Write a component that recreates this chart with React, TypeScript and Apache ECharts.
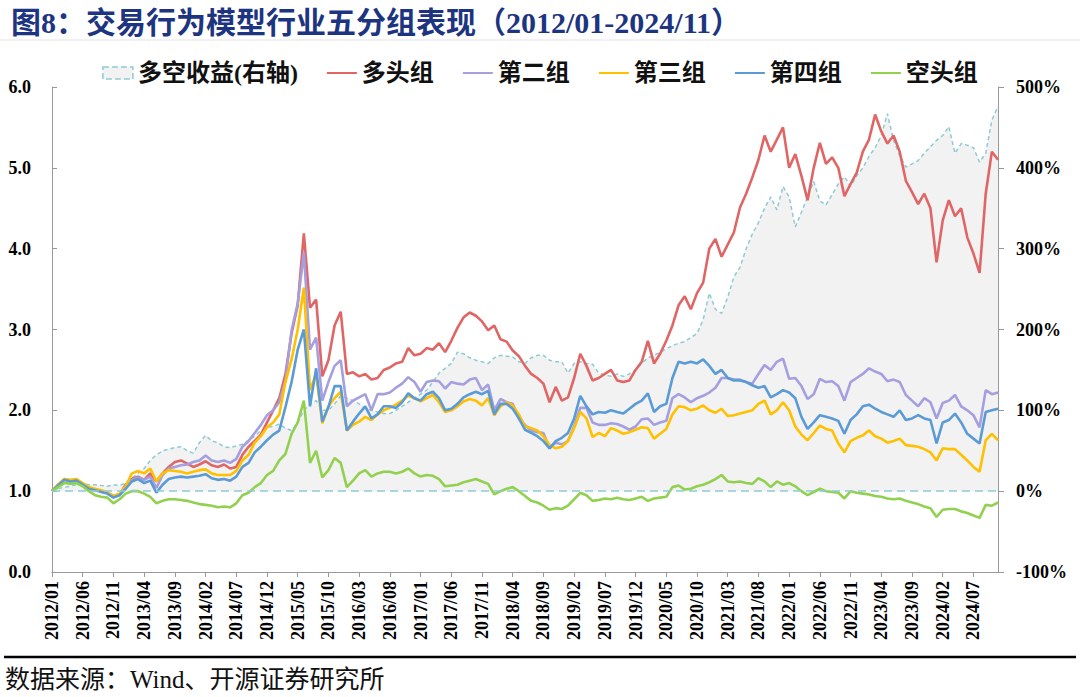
import React, { useEffect, useRef } from "react";
import * as echarts from "echarts";

// Categories: monthly 2012/01 - 2024/11
const months: string[] = [];
for (let y = 2012; y <= 2024; y++) {
  for (let m = 1; m <= 12; m++) {
    if (y === 2024 && m > 11) break;
    months.push(`${y}/${m < 10 ? "0" + m : m}`);
  }
}

// 多头组
const longGroup = [
  1.00,1.08,1.14,1.12,1.13,1.08,1.04,1.02,1.00,0.98,0.94,0.96,
  1.08,1.15,1.18,1.14,1.22,1.12,1.22,1.30,1.36,1.38,1.34,1.30,
  1.33,1.37,1.32,1.30,1.33,1.28,1.30,1.45,1.55,1.62,1.70,1.85,
  2.00,2.15,2.45,2.95,3.30,4.19,3.27,3.37,2.42,2.62,3.05,3.22,
  2.45,2.47,2.42,2.45,2.38,2.40,2.50,2.53,2.58,2.60,2.77,2.68,
  2.70,2.77,2.75,2.83,2.72,2.86,3.02,3.15,3.21,3.17,3.10,2.99,
  3.05,2.88,2.85,2.74,2.67,2.55,2.45,2.40,2.33,2.10,2.29,2.12,
  2.16,2.40,2.70,2.55,2.37,2.40,2.45,2.50,2.37,2.35,2.37,2.50,
  2.60,2.86,2.58,2.70,2.86,3.05,3.30,3.41,3.25,3.45,3.58,4.00,
  4.12,3.90,4.05,4.20,4.51,4.68,4.88,5.10,5.40,5.20,5.35,5.50,
  5.00,5.17,4.90,4.60,5.00,5.31,5.05,5.13,5.00,4.65,4.80,4.94,
  5.20,5.35,5.66,5.45,5.30,5.40,5.20,4.84,4.70,4.55,4.68,4.50,
  3.83,4.35,4.60,4.40,4.50,4.14,3.94,3.70,4.68,5.20,5.10,
];

// 第二组
const group2 = [
  1.00,1.08,1.15,1.13,1.14,1.09,1.04,1.02,1.00,0.98,0.93,0.96,
  1.05,1.14,1.17,1.14,1.18,1.04,1.20,1.28,1.30,1.32,1.33,1.36,
  1.38,1.44,1.38,1.36,1.38,1.35,1.40,1.55,1.62,1.72,1.82,1.94,
  2.00,2.10,2.37,2.99,3.32,3.95,2.75,2.90,2.12,2.35,2.55,2.62,
  2.05,2.12,2.16,2.20,2.00,2.20,2.20,2.22,2.28,2.33,2.41,2.35,
  2.23,2.35,2.37,2.36,2.27,2.35,2.33,2.32,2.38,2.40,2.25,2.32,
  2.00,2.14,2.10,2.08,1.90,1.82,1.75,1.73,1.72,1.53,1.60,1.58,
  1.62,1.80,2.03,2.03,1.85,1.82,1.82,1.84,1.83,1.80,1.76,1.80,
  1.89,1.90,1.82,1.85,1.87,2.15,2.20,2.16,2.10,2.15,2.18,2.22,
  2.28,2.40,2.40,2.38,2.38,2.35,2.33,2.45,2.56,2.50,2.60,2.64,
  2.39,2.40,2.30,2.14,2.20,2.39,2.35,2.36,2.30,2.12,2.35,2.40,
  2.45,2.52,2.48,2.45,2.36,2.38,2.35,2.19,2.12,2.05,2.15,2.10,
  1.90,2.09,2.12,2.19,2.05,2.00,1.94,1.79,2.25,2.20,2.22,
];

// 第三组
const group3 = [
  1.00,1.08,1.15,1.14,1.15,1.10,1.05,1.03,1.01,0.99,0.94,0.97,
  1.06,1.22,1.25,1.22,1.28,1.12,1.22,1.26,1.25,1.24,1.22,1.24,
  1.26,1.27,1.22,1.20,1.20,1.20,1.25,1.38,1.45,1.60,1.68,1.79,
  1.85,1.95,2.35,2.63,3.00,3.52,2.25,2.45,1.84,2.05,2.15,2.23,
  1.75,1.82,1.86,1.92,1.88,1.95,2.00,2.03,2.07,2.12,2.18,2.15,
  2.11,2.15,2.19,2.10,1.98,2.00,2.05,2.11,2.14,2.12,2.06,2.15,
  1.94,2.05,2.10,2.06,1.95,1.80,1.78,1.75,1.68,1.57,1.53,1.55,
  1.62,1.78,1.98,1.90,1.67,1.72,1.68,1.78,1.75,1.71,1.73,1.76,
  1.79,1.78,1.65,1.71,1.77,1.95,2.05,2.04,2.00,2.02,2.06,2.00,
  1.97,2.02,1.93,1.94,1.96,1.98,2.00,2.08,2.12,1.95,2.00,2.10,
  2.00,1.80,1.70,1.63,1.72,1.81,1.77,1.75,1.59,1.48,1.62,1.66,
  1.69,1.75,1.68,1.65,1.60,1.62,1.65,1.57,1.56,1.55,1.52,1.48,
  1.38,1.53,1.52,1.52,1.45,1.38,1.30,1.24,1.63,1.71,1.63,
];

// 第四组
const group4 = [
  1.00,1.07,1.14,1.12,1.13,1.08,1.03,1.01,0.99,0.97,0.92,0.95,
  1.03,1.12,1.15,1.10,1.13,0.98,1.08,1.15,1.17,1.18,1.17,1.18,
  1.19,1.21,1.16,1.14,1.15,1.13,1.18,1.30,1.35,1.48,1.55,1.63,
  1.70,1.75,2.04,2.35,2.75,3.00,2.05,2.52,1.86,2.04,2.30,2.30,
  1.75,1.86,1.96,2.05,1.90,1.95,2.05,2.05,2.03,2.10,2.21,2.15,
  2.12,2.20,2.23,2.15,2.00,2.02,2.08,2.16,2.20,2.23,2.20,2.24,
  1.95,2.08,2.08,2.02,1.90,1.76,1.72,1.68,1.62,1.53,1.62,1.66,
  1.72,1.90,2.18,2.05,1.95,1.98,1.97,2.00,1.98,1.96,2.02,2.08,
  2.12,2.21,1.98,2.05,2.08,2.40,2.60,2.58,2.60,2.58,2.63,2.55,
  2.45,2.50,2.40,2.37,2.37,2.35,2.31,2.28,2.30,2.16,2.20,2.25,
  2.22,2.15,1.92,1.77,1.85,1.94,1.92,1.90,1.87,1.71,1.88,1.95,
  2.05,2.07,2.02,1.98,1.95,1.92,2.00,1.88,1.90,1.94,1.90,1.88,
  1.59,1.85,1.88,1.96,1.85,1.71,1.65,1.59,1.98,2.00,2.02,
];

// 空头组
const shortGroup = [
  1.00,1.05,1.10,1.09,1.10,1.06,1.00,0.95,0.93,0.92,0.85,0.90,
  0.97,1.00,1.00,0.97,0.93,0.85,0.88,0.90,0.90,0.89,0.88,0.86,
  0.84,0.83,0.82,0.80,0.81,0.80,0.85,0.95,0.98,1.05,1.10,1.20,
  1.25,1.38,1.46,1.71,1.85,2.12,1.35,1.50,1.17,1.26,1.41,1.35,
  1.05,1.13,1.22,1.26,1.18,1.22,1.24,1.24,1.22,1.24,1.28,1.22,
  1.18,1.20,1.19,1.15,1.06,1.07,1.08,1.11,1.13,1.15,1.12,1.09,
  0.96,1.00,1.03,1.05,1.00,0.94,0.88,0.86,0.82,0.77,0.79,0.78,
  0.82,0.90,0.98,0.95,0.88,0.89,0.91,0.90,0.92,0.90,0.89,0.91,
  0.93,0.88,0.91,0.92,0.93,1.05,1.07,1.02,1.03,1.06,1.08,1.11,
  1.15,1.20,1.12,1.11,1.12,1.10,1.09,1.16,1.12,1.05,1.12,1.08,
  1.10,1.06,1.00,0.95,0.99,1.03,1.00,0.99,0.98,0.91,1.00,0.98,
  0.97,0.96,0.94,0.93,0.91,0.90,0.91,0.88,0.86,0.84,0.81,0.79,
  0.68,0.77,0.78,0.78,0.75,0.73,0.70,0.67,0.83,0.82,0.86,
];

// 多空收益 (%, right axis)
const longShort = [
  0,3,5,6,8,9,8,8,7,6,8,7,
  10,16,22,28,38,45,50,52,54,55,50,47,
  60,69,62,60,55,54,56,58,63,68,75,79,
  80,83,78,75,85,100,108,112,100,100,108,118,
  115,112,108,102,100,98,96,96,100,105,110,115,
  120,125,135,146,152,158,172,170,165,162,160,158,
  165,168,167,166,160,158,165,168,168,162,160,160,
  146,158,160,158,157,146,144,142,145,142,145,150,
  158,165,168,172,176,180,183,185,190,195,212,245,
  225,220,240,265,277,300,318,332,350,364,348,377,
  364,327,345,364,383,359,354,367,380,389,377,390,
  400,414,425,440,467,434,415,401,405,409,418,426,
  434,440,451,418,430,428,425,407,418,459,476,
];

const leftTicks = { min: 0, max: 6, interval: 1 };
const rightTicks = { min: -100, max: 500, interval: 100 };

const serif = "'Liberation Serif','Times New Roman','Noto Sans CJK SC',serif";
const TEAL = "#8dcbd3";

export default function App() {
  const ref = useRef<HTMLDivElement>(null);
  useEffect(() => {
    if (!ref.current) return;
    const chart = echarts.init(ref.current, undefined, { renderer: "svg" });
    const lineSeries = (name: string, data: number[], color: string) => ({
      name,
      type: "line",
      data,
      yAxisIndex: 0,
      symbol: "none",
      showSymbol: false,
      lineStyle: { color, width: 2.6 },
      itemStyle: { color },
    });
    const lineLegend = (name: string) => ({ name, itemStyle: { opacity: 0 } });
    chart.setOption({
      animation: false,
      title: {
        text: "图8：交易行为模型行业五分组表现（2012/01-2024/11）",
        left: 6,
        top: 2,
        textStyle: { fontSize: 30, fontWeight: "bold", color: "#1d3581", fontFamily: serif },
      },
      legend: {
        top: 56,
        left: "center",
        itemWidth: 30,
        itemHeight: 12,
        itemGap: 28,
        textStyle: { fontSize: 24, fontWeight: "bold", color: "#111", fontFamily: serif },
        data: [
          {
            name: "多空收益(右轴)",
            icon: "rect",
            itemStyle: { color: "#f2f2f2", borderColor: TEAL, borderWidth: 1.5, borderType: "dashed" },
          },
          lineLegend("多头组"),
          lineLegend("第二组"),
          lineLegend("第三组"),
          lineLegend("第四组"),
          lineLegend("空头组"),
        ],
      },
      grid: { left: 52, right: 82, top: 87, bottom: 125, containLabel: false },
      xAxis: {
        type: "category",
        data: months,
        boundaryGap: false,
        axisLine: { lineStyle: { color: "#999", width: 1 } },
        axisTick: { interval: 4, length: 5, lineStyle: { color: "#999" } },
        axisLabel: {
          interval: 4,
          rotate: 90,
          margin: 9,
          fontSize: 18,
          fontWeight: "bold",
          color: "#000",
          fontFamily: serif,
        },
        splitLine: { show: false },
      },
      yAxis: [
        {
          type: "value",
          ...leftTicks,
          axisLine: { show: true, lineStyle: { color: "#999" } },
          axisTick: { show: true, inside: true, length: 5, lineStyle: { color: "#999" } },
          splitLine: { show: false },
          axisLabel: {
            formatter: (v: number) => v.toFixed(1),
            margin: 21,
            fontSize: 18,
            fontWeight: "bold",
            color: "#000",
            fontFamily: serif,
          },
        },
        {
          type: "value",
          position: "right",
          ...rightTicks,
          axisLine: { show: true, lineStyle: { color: "#999" } },
          axisTick: { show: true, inside: false, length: 6, lineStyle: { color: "#999" } },
          splitLine: { show: false },
          axisLabel: {
            formatter: "{value}%",
            margin: 18,
            fontSize: 18,
            fontWeight: "bold",
            color: "#000",
            fontFamily: serif,
          },
        },
      ],
      graphic: [
        { type: "line", shape: { x1: 0, y1: 40, x2: 1080, y2: 40 }, style: { stroke: "#e3e3e3", lineWidth: 1 } },
        { type: "line", shape: { x1: 4, y1: 657, x2: 1076, y2: 657 }, style: { stroke: "#000", lineWidth: 2.5 } },
        {
          type: "text",
          left: 5,
          top: 667,
          style: { text: "数据来源：Wind、开源证券研究所", fontSize: 25, fontFamily: serif, fill: "#111" },
        },
      ],
      series: [
        {
          name: "多空收益(右轴)",
          type: "line",
          data: longShort,
          yAxisIndex: 1,
          symbol: "none",
          showSymbol: false,
          lineStyle: { color: TEAL, width: 1.5, type: [4, 3] },
          itemStyle: { color: TEAL },
          areaStyle: { color: "#f2f2f2", opacity: 1 },
          markLine: {
            silent: true,
            symbol: ["none", "none"],
            label: { show: false },
            lineStyle: { color: TEAL, width: 1.5, type: [8, 5] },
            data: [{ yAxis: 0 }],
          },
        },
        lineSeries("多头组", longGroup, "#e06666"),
        lineSeries("第二组", group2, "#a59fe0"),
        lineSeries("第三组", group3, "#ffc000"),
        lineSeries("第四组", group4, "#5b9bd5"),
        lineSeries("空头组", shortGroup, "#92d050"),
      ],
    });
    return () => chart.dispose();
  }, []);
  return <div ref={ref} style={{ position: "absolute", left: 0, top: 0, width: 1080, height: 697 }} />;
}
